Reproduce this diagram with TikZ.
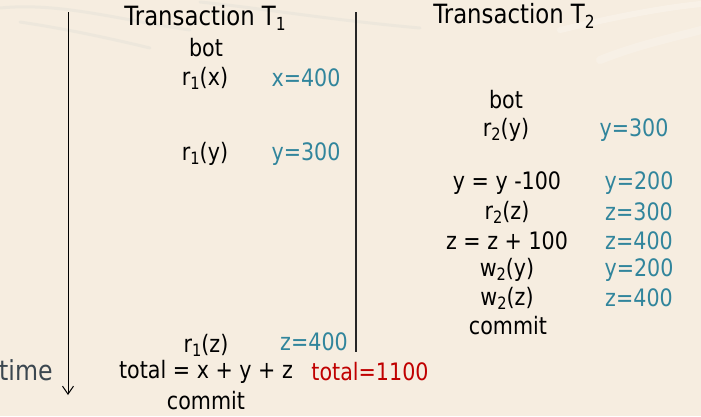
\documentclass[tikz,border=0pt]{standalone}
\usepackage{fontspec}
\setmainfont{DejaVu Sans}[FakeStretch=0.86]
\usetikzlibrary{arrows.meta}
\definecolor{bg}{HTML}{F6EDE0}
\definecolor{val}{HTML}{31859C}
\definecolor{tot}{HTML}{C00000}
\definecolor{tcol}{HTML}{3B4750}
\definecolor{streak}{HTML}{C9D2CC}
\newcommand{\sbs}[1]{\raisebox{-0.32ex}{\fontsize{17}{17}\selectfont #1}}
\newcommand{\tsbs}[1]{\raisebox{-0.35ex}{\fontsize{18}{18}\selectfont #1}}
\begin{document}
\begin{tikzpicture}[x=1pt,y=-1pt,
  op/.style={inner sep=0pt,font=\fontsize{24}{28}\selectfont,text=black},
  vl/.style={inner sep=0pt,font=\fontsize{24}{28}\selectfont,text=val},
  ttl/.style={inner sep=0pt,font=\fontsize{26.5}{30}\selectfont,text=black},
  rule/.style={line width=1.2pt,draw=black!85},
  streakline/.style={draw=streak,line width=3pt,opacity=0.2,line cap=round}]
\fill[bg] (0,0) rectangle (701,416);
\useasboundingbox (0,0) rectangle (701,416);
% faint background texture at the top
\draw[streakline] (0,8) .. controls (60,2) and (120,20) .. (190,30);
\draw[streakline] (20,22) .. controls (60,28) and (100,36) .. (150,48);
\draw[streakline] (200,2) .. controls (260,8) and (330,20) .. (420,28);
\draw[streakline,draw=white,opacity=0.25,line width=6pt] (560,30) .. controls (610,18) and (660,8) .. (701,4);
\draw[streakline,draw=white,opacity=0.2,line width=8pt] (600,60) .. controls (640,44) and (680,36) .. (701,30);
% time axis
\coordinate (ts) at (68,12);
\coordinate (te) at (68,395);
\draw[line width=1pt,-{Straight Barb[length=8pt,width=11pt]}] (ts) -- (te);
\node[inner sep=0pt,font=\fontsize{27.5}{30}\selectfont,text=tcol,anchor=west] (time) at (-1,370) {time};
% separator
\coordinate (ss) at (356,12);
\coordinate (se) at (356,352);
\draw[rule] (ss) -- (se);
% T1
\node[ttl] (t1) at (205,18) {Transaction T\tsbs{1}};
\node[op] (bot1) at (206,48) {bot};
\node[op] (r1x) at (205,78) {r\sbs{1}(x)};
\node[vl] (vx) at (306,78) {x=400};
\node[op] (r1y) at (205,154) {r\sbs{1}(y)};
\node[vl] (vy) at (306,154) {y=300};
\node[op] (r1z) at (206,345) {r\sbs{1}(z)};
\node[vl] (vz) at (314,342) {z=400};
\node[op] (tot) at (206,372) {total = x + y + z};
\node[op,text=tot] (totv) at (370,372) {total=1100};
\node[op] (c1) at (206,401) {commit};
% T2
\node[ttl] (t2) at (514,16) {Transaction T\tsbs{2}};
\node[op] (bot2) at (506,100) {bot};
\node[op] (r2y) at (506,130) {r\sbs{2}(y)};
\node[vl] (v2y) at (634,130) {y=300};
\node[op] (a1) at (507,183) {y = y -100};
\node[vl] (v2a) at (639,183) {y=200};
\node[op] (r2z) at (507,212) {r\sbs{2}(z)};
\node[vl] (v2z) at (639,212) {z=300};
\node[op] (a2) at (507,241) {z = z + 100};
\node[vl] (v2b) at (639,241) {z=400};
\node[op] (w2y) at (507,270) {w\sbs{2}(y)};
\node[vl] (v2c) at (639,270) {y=200};
\node[op] (w2z) at (507,298) {w\sbs{2}(z)};
\node[vl] (v2d) at (639,298) {z=400};
\node[op] (c2) at (508,326) {commit};
\end{tikzpicture}
\end{document}
